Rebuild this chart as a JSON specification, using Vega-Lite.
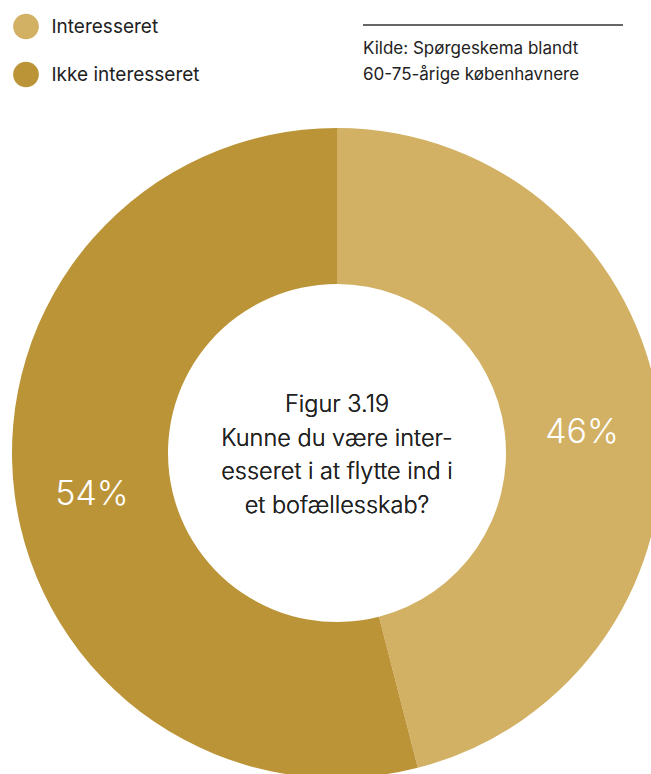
{
  "$schema": "https://vega.github.io/schema/vega-lite/v6.json",
  "width": 674,
  "height": 906,
  "autosize": "none",
  "padding": 0,
  "background": "white",
  "config": {"view": {"stroke": null}, "font": "Inter"},
  "title": {
    "text": ["Kilde: Spørgeskema blandt", "60-75-årige københavnere"],
    "anchor": "start",
    "frame": "group",
    "orient": "top",
    "dx": 363,
    "dy": 84,
    "offset": 0,
    "baseline": "top",
    "fontSize": 17,
    "fontWeight": "normal",
    "font": "Inter",
    "lineHeight": 26.5,
    "color": "#222222"
  },
  "data": {
    "values": [
      {"category": "Interesseret", "value": 46, "label": "46%"},
      {"category": "Ikke interesseret", "value": 54, "label": "54%"}
    ]
  },
  "layer": [
    {
      "mark": {"type": "arc", "outerRadius": 325, "innerRadius": 169},
      "encoding": {
        "theta": {"field": "value", "type": "quantitative", "stack": true},
        "order": {"field": "category", "sort": "descending"},
        "color": {
          "field": "category",
          "type": "nominal",
          "scale": {"domain": ["Interesseret", "Ikke interesseret"], "range": ["#D2B064", "#BC9438"]},
          "legend": {
            "orient": "none",
            "legendX": 13,
            "legendY": 13.5,
            "title": null,
            "symbolType": "circle",
            "symbolSize": 660,
            "symbolStrokeWidth": 0,
            "labelFontSize": 19,
            "labelFont": "Inter",
            "labelColor": "#222222",
            "labelOffset": 12.5,
            "rowPadding": 22,
            "padding": 0
          }
        }
      }
    },
    {
      "mark": {"type": "text", "radius": 247, "dy": 11, "fontSize": 34, "fontWeight": 300, "font": "Inter", "color": "white", "baseline": "middle", "align": "center"},
      "encoding": {
        "theta": {"field": "value", "type": "quantitative", "stack": true},
        "order": {"field": "category", "sort": "descending"},
        "text": {"field": "label"}
      }
    },
    {
      "mark": {"type": "text", "dy": -48, "fontSize": 23.5, "fontWeight": 300, "font": "Inter", "color": "#222222", "baseline": "middle", "align": "center", "lineHeight": 33.5},
      "encoding": {
        "text": {"value": ["Figur 3.19", "Kunne du være inter-", "esseret i at flytte ind i", "et bofællesskab?"]}
      }
    },
    {
      "mark": {"type": "rule", "color": "#333333", "strokeWidth": 1},
      "encoding": {
        "x": {"value": 363},
        "x2": {"value": 623},
        "y": {"value": 25}
      }
    }
  ]
}
